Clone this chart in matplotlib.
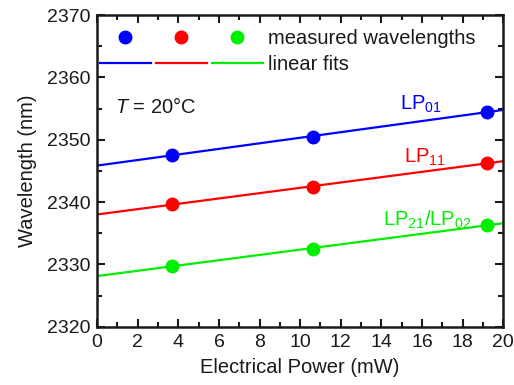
import matplotlib

matplotlib.use("Agg")
import matplotlib.pyplot as plt
import numpy as np
from matplotlib.legend_handler import HandlerTuple
from matplotlib.lines import Line2D
from matplotlib.ticker import MultipleLocator

# measured mode wavelengths vs. electrical heating power
power = [3.7, 10.65, 19.2]
lp01 = [2347.6, 2350.45, 2354.5]
lp11 = [2339.7, 2342.4, 2346.3]
lp21 = [2329.8, 2332.5, 2336.35]

modes = [
    (lp01, "blue", r"LP$_{01}$"),
    (lp11, "red", r"LP$_{11}$"),
    (lp21, "#00ee00", r"LP$_{21}$/LP$_{02}$"),
]
label_pos = [(14.9, 2354.8), (15.1, 2346.4), (14.1, 2336.3)]

ink = "#1a1a1a"
fs = 14.5

plt.rcParams["font.family"] = ["Liberation Sans", "DejaVu Sans"]
plt.rcParams["mathtext.fontset"] = "custom"
plt.rcParams["mathtext.rm"] = "Liberation Sans"
plt.rcParams["mathtext.it"] = "Liberation Sans:italic"
plt.rcParams["text.color"] = ink
plt.rcParams["axes.labelcolor"] = ink

fig, ax = plt.subplots(figsize=(5.14, 3.85), dpi=100)
fig.subplots_adjust(left=0.189, right=0.979, top=0.961, bottom=0.151)

xfit = np.array([0.0, 20.0])
dots, lines = [], []
for (y, color, label), (lx, ly) in zip(modes, label_pos):
    slope, icpt = np.polyfit(power, y, 1)
    ax.plot(xfit, slope * xfit + icpt, color=color, lw=1.6, zorder=2)
    ax.plot(power, y, "o", color=color, ms=9, zorder=3, clip_on=False)
    dots.append(Line2D([], [], ls="none", marker="o", color=color, ms=9))
    lines.append(Line2D([], [], color=color, lw=1.6))
    ax.text(lx, ly, label, color=color, fontsize=fs, va="baseline")

ax.legend(
    [tuple(dots), tuple(lines)],
    ["measured wavelengths", "linear fits"],
    handler_map={tuple: HandlerTuple(ndivide=None, pad=0.25)},
    handlelength=8.1,
    handletextpad=0.25,
    labelspacing=0.32,
    loc="upper left",
    bbox_to_anchor=(-0.038, 1.012),
    frameon=False,
    fontsize=fs,
)

ax.text(0.89, 2354.3, r"$T$ = 20°C", fontsize=fs, va="baseline")

ax.set_xlim(0, 20)
ax.set_ylim(2320, 2370)
ax.xaxis.set_major_locator(MultipleLocator(2))
ax.xaxis.set_minor_locator(MultipleLocator(1))
ax.yaxis.set_major_locator(MultipleLocator(10))
ax.yaxis.set_minor_locator(MultipleLocator(5))
ax.tick_params(which="both", direction="in", top=True, right=True, width=1.5,
               labelsize=14, colors=ink)
ax.tick_params(which="major", length=6, pad=5)
ax.tick_params(which="minor", length=3.5)
for side in ax.spines.values():
    side.set_linewidth(1.8)
    side.set_color(ink)

ax.set_xlabel("Electrical Power (mW)", fontsize=fs, labelpad=5)
ax.set_ylabel("Wavelength (nm)", fontsize=fs, labelpad=7)

fig.savefig("out.png", dpi=100)
